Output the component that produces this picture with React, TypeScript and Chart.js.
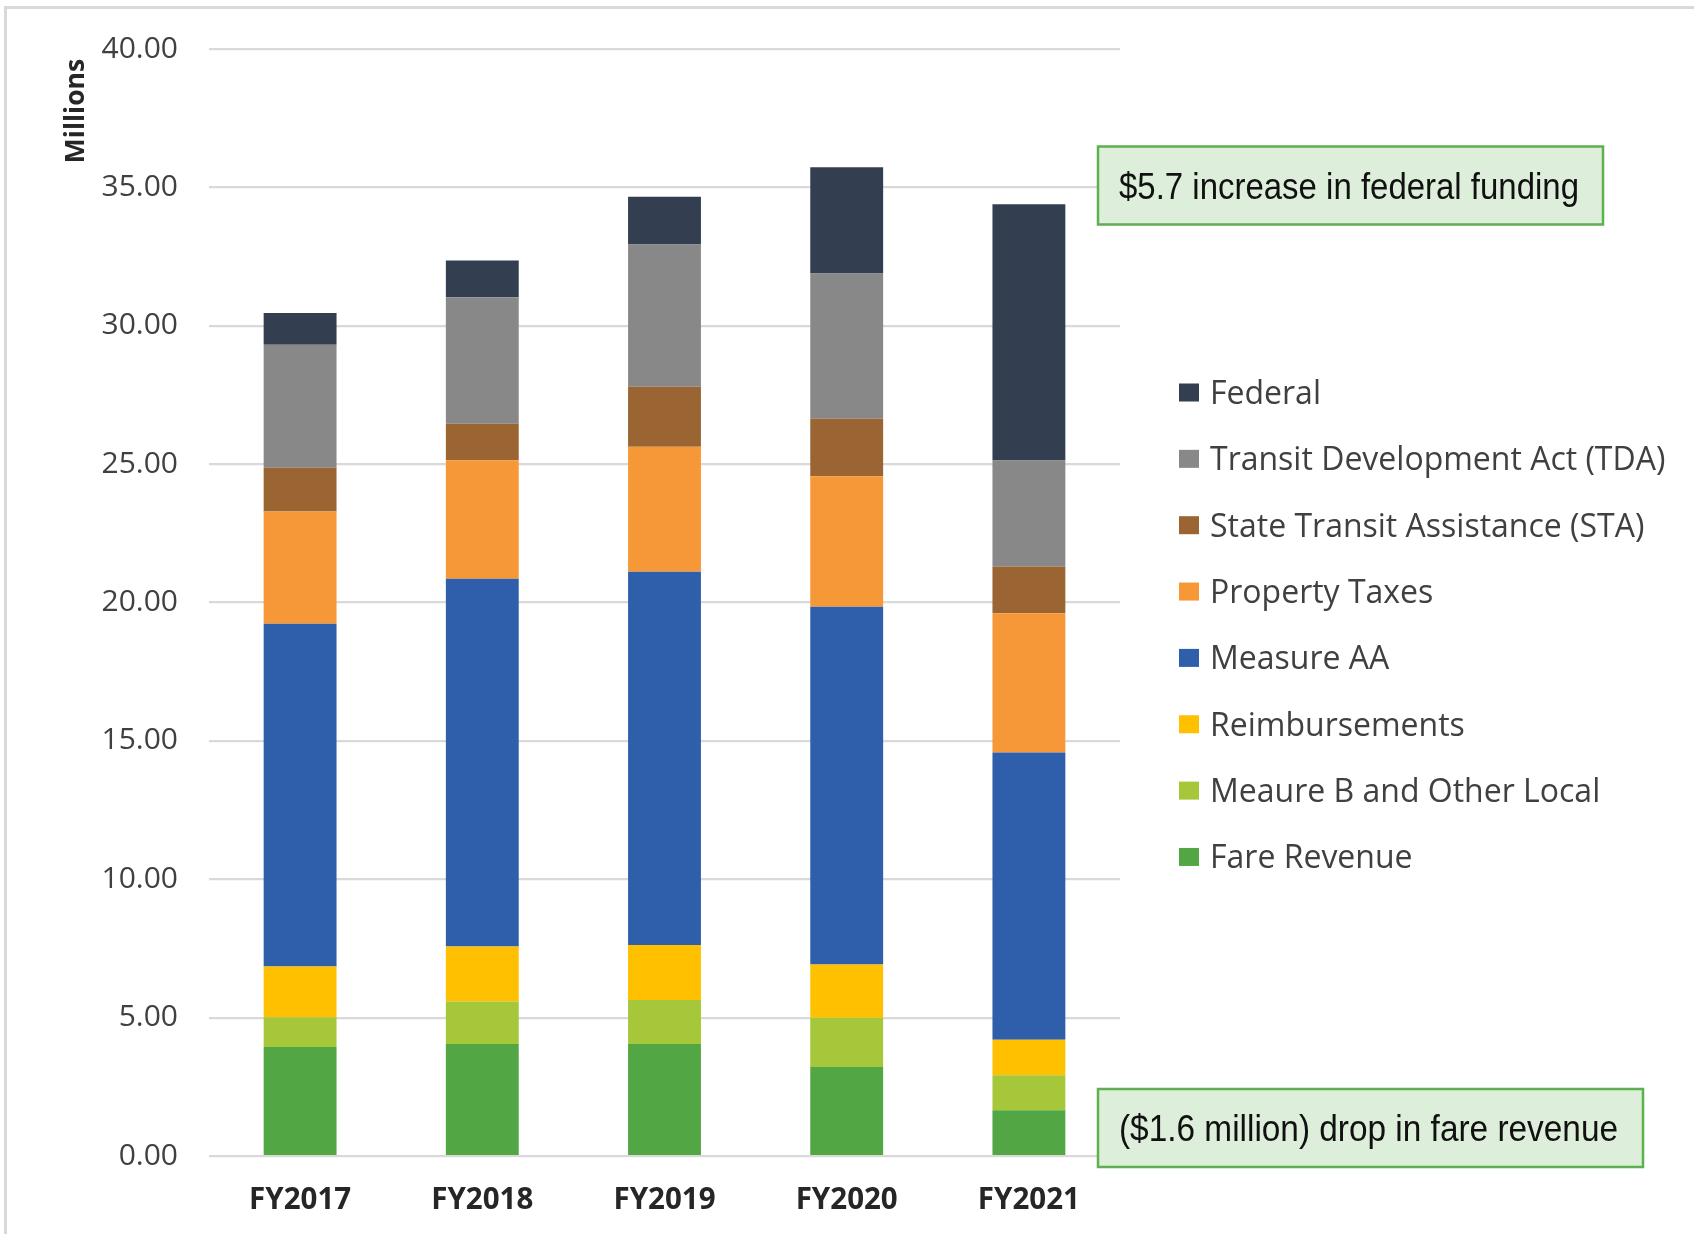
import React, { useEffect, useRef } from "react";
import { Chart, registerables } from "chart.js";

Chart.register(...registerables);

// ---- Data (millions) ----
const categories = ["FY2017", "FY2018", "FY2019", "FY2020", "FY2021"];
const fareRevenue = [3.94, 4.05, 4.05, 3.22, 1.65];
const measureBOtherLocal = [1.07, 1.53, 1.59, 1.78, 1.27];
const reimbursements = [1.84, 1.99, 1.98, 1.92, 1.28];
const measureAA = [12.38, 13.29, 13.49, 12.93, 10.38];
const propertyTaxes = [4.06, 4.28, 4.52, 4.71, 5.03];
const stateTransitAssistance = [1.58, 1.32, 2.17, 2.08, 1.69];
const transitDevelopmentAct = [4.44, 4.57, 5.14, 5.25, 3.83];
const federal = [1.15, 1.33, 1.72, 3.84, 9.26];

const seriesNames = [
  "Fare Revenue",
  "Meaure B and Other Local",
  "Reimbursements",
  "Measure AA",
  "Property Taxes",
  "State Transit Assistance (STA)",
  "Transit Development Act (TDA)",
  "Federal",
];
const seriesValues = [
  fareRevenue,
  measureBOtherLocal,
  reimbursements,
  measureAA,
  propertyTaxes,
  stateTransitAssistance,
  transitDevelopmentAct,
  federal,
];
const seriesColors = [
  "#52A744",
  "#A6C73A",
  "#FFC000",
  "#2F5FAA",
  "#F79838",
  "#9A6533",
  "#888888",
  "#333F50",
];

const yAxisTitle = "Millions";
const annotationTexts = [
  "$5.7 increase in federal funding",
  "($1.6 million) drop in fare revenue",
];

const W = 1694;
const H = 1234;

const overlayPlugin = {
  id: "overlay",
  afterDraw(chart: any) {
    const ctx = chart.ctx as CanvasRenderingContext2D;
    const ca = chart.chartArea;

    // Y axis title
    ctx.save();
    ctx.translate(ca.left - 125, ca.top + 62);
    ctx.rotate(-Math.PI / 2);
    ctx.font = "bold 26.5px 'Open Sans'";
    ctx.fillStyle = "#262626";
    ctx.textAlign = "center";
    ctx.textBaseline = "alphabetic";
    ctx.fillText(yAxisTitle, 0, 0);
    ctx.restore();

    // Legend (top to bottom = reversed dataset order)
    ctx.save();
    const ds = chart.data.datasets;
    const boxX = ca.right + 59;
    const firstY = ca.top + 343.5;
    const gap = 66.35;
    ctx.font = "32px 'Open Sans'";
    ctx.textAlign = "left";
    ctx.textBaseline = "alphabetic";
    for (let i = 0; i < ds.length; i++) {
      const d = ds[ds.length - 1 - i];
      const cy = firstY + i * gap;
      ctx.fillStyle = d.backgroundColor;
      ctx.fillRect(boxX, cy - 9, 20, 18);
      ctx.fillStyle = "#404040";
      ctx.fillText(d.label, boxX + 31, cy + 11.5);
    }
    ctx.restore();

    // Annotation boxes
    const boxes = [
      { x: ca.right - 22, y: ca.top + 97.5, w: 505, h: 78, tw: 460 },
      { x: ca.right - 22, y: ca.bottom - 67, w: 545, h: 78, tw: 499 },
    ];
    ctx.save();
    boxes.forEach((b, i) => {
      ctx.fillStyle = "#DDEFDA";
      ctx.fillRect(b.x, b.y, b.w, b.h);
      ctx.strokeStyle = "#5DAF4F";
      ctx.lineWidth = 2.5;
      ctx.strokeRect(b.x, b.y, b.w, b.h);
      ctx.fillStyle = "#111111";
      ctx.font = "37px 'Liberation Sans'";
      ctx.textAlign = "left";
      ctx.textBaseline = "alphabetic";
      ctx.fillText(annotationTexts[i], b.x + 21, b.y + b.h / 2 + 13, b.tw);
    });
    ctx.restore();
  },
};

export default function App() {
  const ref = useRef<HTMLCanvasElement | null>(null);

  useEffect(() => {
    if (!ref.current) return;
    const chart = new Chart(ref.current, {
      type: "bar",
      data: {
        labels: categories,
        datasets: seriesNames.map((name, i) => ({
          label: name,
          data: seriesValues[i],
          backgroundColor: seriesColors[i],
          borderWidth: 0,
          barPercentage: 0.4,
          categoryPercentage: 1,
        })),
      },
      options: {
        responsive: false,
        animation: false,
        devicePixelRatio: 1,
        layout: { padding: { left: 0, top: 47.5, right: W - 1120, bottom: 0 } },
        plugins: {
          legend: { display: false },
          tooltip: { enabled: false },
          title: { display: false },
        },
        scales: {
          x: {
            stacked: true,
            grid: { display: false, drawTicks: false },
            border: { display: false },
            ticks: {
              padding: 27,
              color: "#262626",
              font: { family: "'Open Sans'", size: 29.5, weight: "bold", lineHeight: 1.2 },
            },
            afterFit(scale: any) {
              scale.height = 78;
            },
          },
          y: {
            stacked: true,
            min: 0,
            max: 40,
            ticks: {
              stepSize: 5,
              padding: 31,
              color: "#404040",
              font: { family: "'Open Sans'", size: 30 },
              callback: (v: any) => Number(v).toFixed(2),
            },
            grid: { color: "#D9D9D9", lineWidth: 2.2, drawTicks: false },
            border: { display: false },
            afterFit(scale: any) {
              scale.width = 209;
            },
          },
        },
      } as any,
      plugins: [overlayPlugin],
    });
    return () => chart.destroy();
  }, []);

  return (
    <div
      style={{
        position: "absolute",
        left: 0,
        top: 0,
        width: W,
        height: H,
        overflow: "hidden",
        background: "#ffffff",
      }}
    >
      <canvas ref={ref} width={W} height={H} style={{ width: W, height: H, display: "block" }} />
      <div
        style={{
          position: "absolute",
          left: 4,
          top: 6,
          width: W + 100,
          height: H + 100,
          border: "3px solid #D9D9D9",
          pointerEvents: "none",
        }}
      />
    </div>
  );
}
